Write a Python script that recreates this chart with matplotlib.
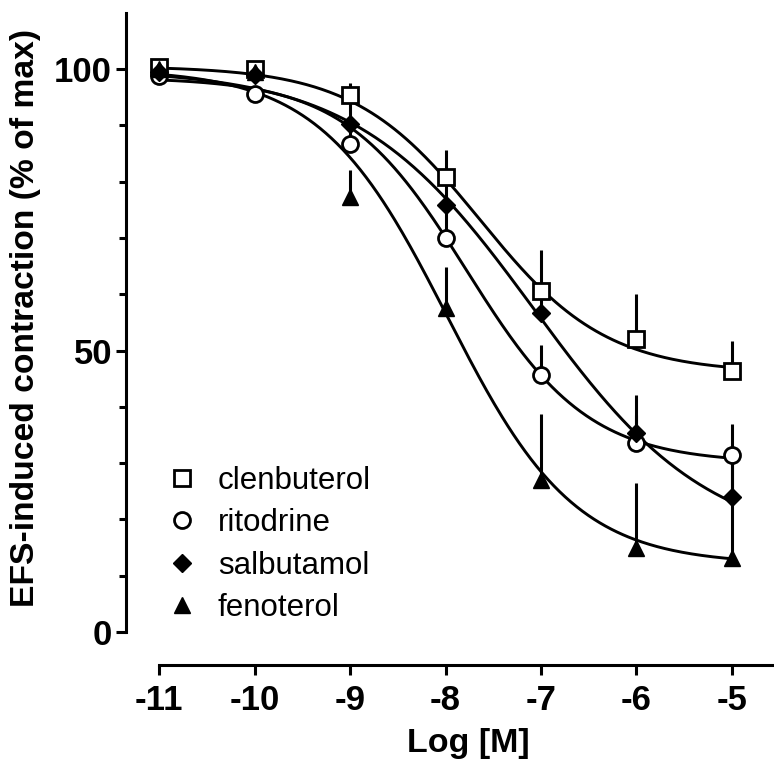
import numpy as np
import matplotlib
matplotlib.use("Agg")
import matplotlib.pyplot as plt

plt.rcParams['font.family'] = ['Liberation Sans', 'DejaVu Sans']

# concentrations (log M)
log_conc = [-11, -10, -9, -8, -7, -6, -5]

drugs = ["clenbuterol", "ritodrine", "salbutamol", "fenoterol"]

# mean response (% of max)
clenbuterol = [100.3, 100.0, 95.4, 80.8, 60.6, 52.0, 46.4]
ritodrine = [98.8, 95.6, 86.7, 70.0, 45.6, 33.6, 31.4]
salbutamol = [99.5, 99.0, 90.2, 75.8, 56.6, 35.3, 24.0]
fenoterol = [100.0, 99.5, 77.3, 57.5, 27.0, 14.9, 13.1]

# upper error bars (SEM)
clenbuterol_err = [0.0, 0.0, 2.1, 4.8, 7.3, 8.0, 5.3]
ritodrine_err = [0.0, 0.0, 3.5, 5.8, 5.4, 5.0, 5.5]
salbutamol_err = [0.0, 0.5, 5.0, 5.0, 5.0, 6.8, 6.0]
fenoterol_err = [0.0, 0.0, 4.8, 7.3, 11.7, 11.6, 18.0]

# fitted sigmoid parameters: top, bottom, logEC50, hill slope
fit_top = [100.5, 98.5, 100.0, 100.0]
fit_bottom = [46.0, 30.0, 15.0, 12.0]
fit_logec50 = [-7.64, -7.78, -7.08, -7.98]
fit_hill = [0.658, 0.68, 0.47, 0.65]

means = [clenbuterol, ritodrine, salbutamol, fenoterol]
errs = [clenbuterol_err, ritodrine_err, salbutamol_err, fenoterol_err]

# marker styles: (marker, size, facecolor, edgewidth)
styles = [("s", 11, "white", 2.0),
          ("o", 11.5, "white", 2.0),
          ("D", 9, "black", 1.0),
          ("^", 12, "black", 1.0)]

fig = plt.figure(figsize=(7.74, 7.72), dpi=100)
ax = fig.add_axes([126 / 774, 1 - 665 / 772, 648 / 774, (665 - 13) / 772])

xs = np.linspace(-11, -5, 300)
for i, name in enumerate(drugs):
    curve = fit_bottom[i] + (fit_top[i] - fit_bottom[i]) / (
        1 + 10 ** ((xs - fit_logec50[i]) * fit_hill[i]))
    ax.plot(xs, curve, color="black", lw=2.1, zorder=2)

for i, name in enumerate(drugs):
    ax.errorbar(log_conc, means[i],
                yerr=[np.zeros(len(errs[i])), errs[i]],
                fmt="none", ecolor="black", elinewidth=2.2, capsize=0,
                zorder=3)

for i, name in enumerate(drugs):
    m, ms, fc, mew = styles[i]
    ax.plot(log_conc, means[i], linestyle="none", marker=m, ms=ms,
            mfc=fc, mec="black", mew=mew, label=name, zorder=4 + i)

ax.set_xlim(-11.346, -4.56)
ax.set_ylim(-5.86, 109.95)

for s in ["top", "right"]:
    ax.spines[s].set_visible(False)
ax.spines["left"].set_bounds(0, 109.95)
ax.spines["bottom"].set_bounds(-11, -4.56)
ax.spines["left"].set_linewidth(2.2)
ax.spines["bottom"].set_linewidth(2.2)

ax.set_xticks(log_conc)
ax.set_xticklabels([str(v) for v in log_conc])
ax.set_yticks([0, 50, 100])
ax.set_yticks(np.arange(0, 110, 10), minor=True)
ax.tick_params(axis="both", which="major", direction="out", width=2.2,
               length=7, labelsize=25)
ax.tick_params(axis="x", which="major", pad=7)
ax.tick_params(axis="y", which="major", pad=3)
ax.tick_params(axis="y", which="minor", direction="out", width=2.2, length=5)
for lab in ax.get_xticklabels() + ax.get_yticklabels():
    lab.set_fontweight("bold")

ax.set_xlabel("Log [M]", fontsize=24.5, fontweight="bold")
ax.xaxis.set_label_coords(0.528, -0.097)
ax.set_ylabel("EFS-induced contraction (% of max)", fontsize=24.2,
              fontweight="bold")
ax.yaxis.set_label_coords(-0.131, 0.532)

ax.legend(loc="upper left", bbox_to_anchor=(0.043, 0.325), frameon=False,
          fontsize=22.5, handlelength=1.0, handletextpad=0.65,
          labelspacing=0.40, borderaxespad=0)

fig.savefig("out.png", dpi=100)
